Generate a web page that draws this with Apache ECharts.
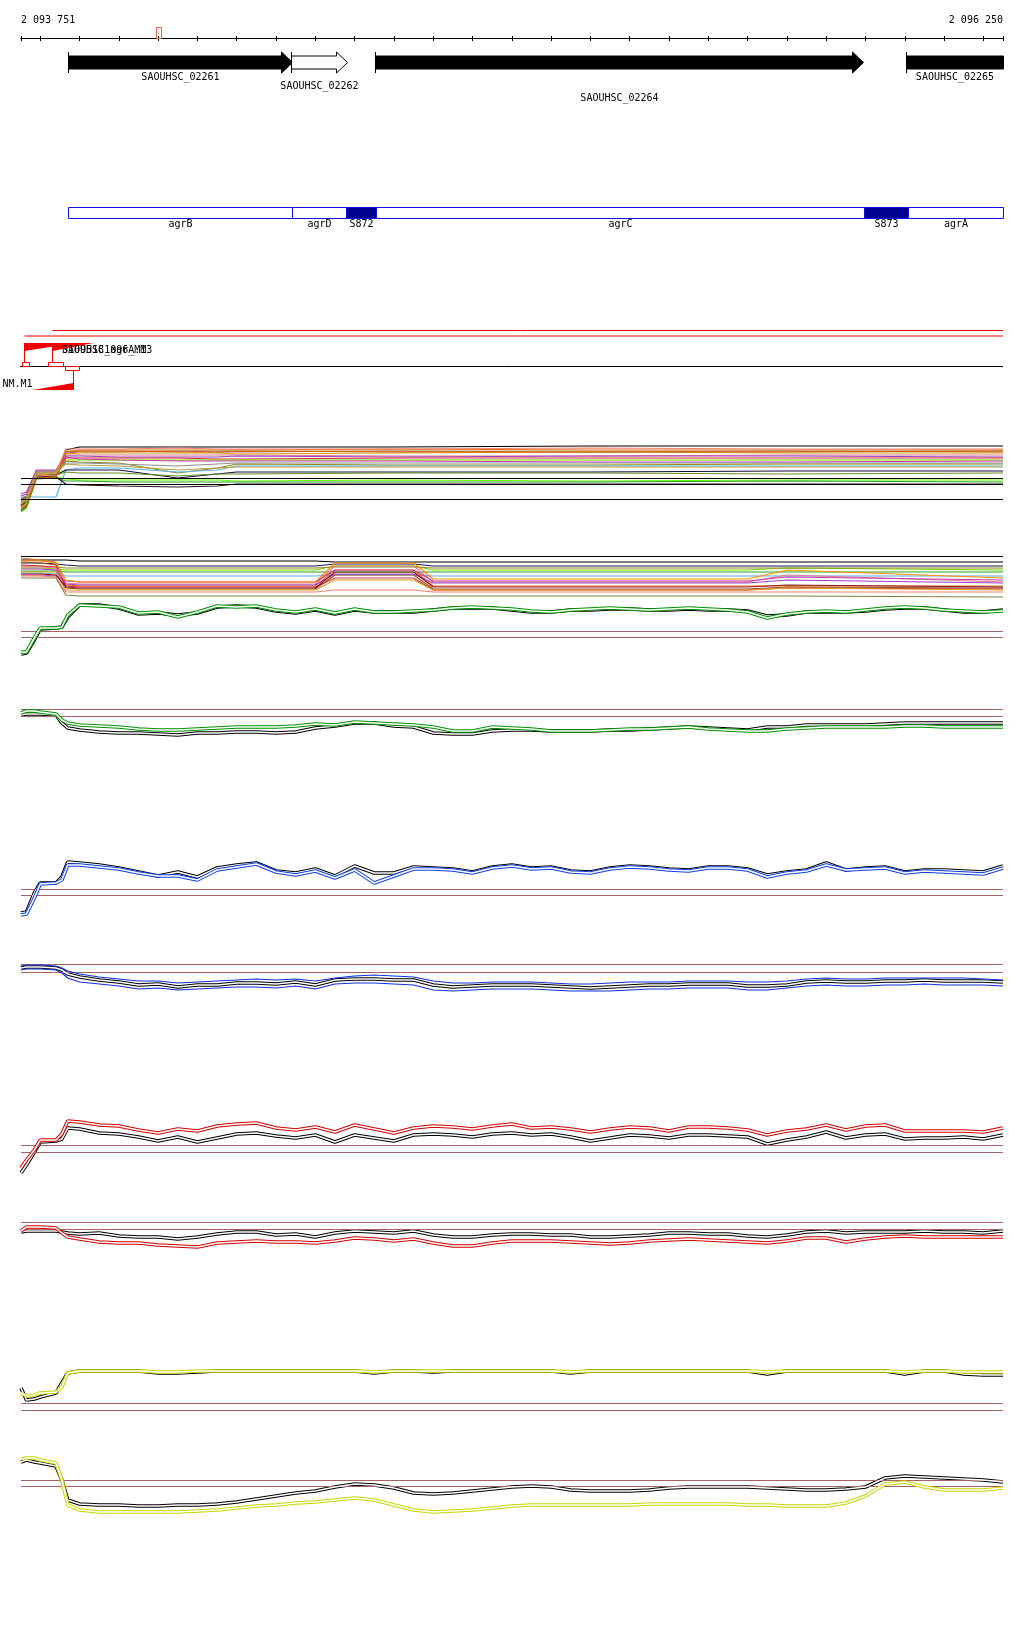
<!DOCTYPE html>
<html>
<head>
<meta charset="utf-8">
<script src="https://cdn.jsdelivr.net/npm/echarts@6/dist/echarts.min.js"></script>
<style>
  html, body { margin: 0; padding: 0; background: #fff; }
  #chart { width: 1024px; height: 1640px; }
</style>
</head>
<body>
<div id="chart"></div>
<script>
// region shown
const startPos = 2093751
const endPos = 2096250
const rulerTicks = [2093751, 2093800, 2093900, 2094000, 2094100, 2094200, 2094300, 2094400, 2094500, 2094600,
  2094700, 2094800, 2094900, 2095000, 2095100, 2095200, 2095300, 2095400, 2095500, 2095600,
  2095700, 2095800, 2095900, 2096000, 2096100, 2096200, 2096250]
const rulerLabels = [2093751, 2096250]
const markerPos = [2094102]

// genes
const geneNames = ['SAOUHSC_02261', 'SAOUHSC_02262', 'SAOUHSC_02264', 'SAOUHSC_02265']
const geneStart = [2093871, 2094438, 2094652, 2096003]
const geneEnd = [2094441, 2094581, 2095894, 2096250]
const geneFilled = [1, 0, 1, 1]
const geneHead = [1, 1, 1, 0]
const geneLabelRow = [0, 1, 2, 0]

// annotated features
const featureNames = ['agrB', 'agrD', 'S872', 'agrC', 'S873', 'agrA']
const featureStart = [2093871, 2094441, 2094578, 2094654, 2095896, 2096008]
const featureEnd = [2094441, 2094578, 2094654, 2095896, 2096008, 2096250]
const featureSolid = [0, 0, 1, 0, 1, 0]

// probes
const probeNames = ['01095181096_M1', 'SAOUHSC_agrA.M3', 'SAOUHSC_02261.NM.M1']
const probeStart = [2093759, 2093830, 2093779]
const probeEnd = [2093888, 2093934, 2093883]
const probeStrand = [1, 1, -1]
const probeBoxStart = [2093754, 2093820, 2093863]
const probeBoxEnd = [2093771, 2093858, 2093899]

// positions of the profile tracks
const pos = [2093751, 2093765, 2093785, 2093800, 2093840, 2093855, 2093870, 2093900, 2093950, 2094000,
  2094050, 2094100, 2094150, 2094200, 2094250, 2094300, 2094350, 2094400, 2094450, 2094500,
  2094550, 2094600, 2094650, 2094700, 2094750, 2094800, 2094850, 2094900, 2094950, 2095000,
  2095050, 2095100, 2095150, 2095200, 2095250, 2095300, 2095350, 2095400, 2095450, 2095500,
  2095550, 2095600, 2095650, 2095700, 2095750, 2095800, 2095850, 2095900, 2095950, 2096000,
  2096050, 2096100, 2096150, 2096200, 2096250]

// track 1: many samples
const t1Pos = [2093751, 2093765, 2093790, 2093840, 2093865, 2093900, 2094000, 2094150, 2094250, 2094300, 2094700, 2095200, 2095700, 2096250]
const t1Colors = ['#000000', '#e8731a', '#b5533c', '#d4a020', '#e07890', '#a040c0', '#d03030', '#80d000', '#c040a0',
  '#8a8a20', '#60b0e8', '#101040', '#6b8e23', '#66ff00', '#20a020', '#301020', '#909090', '#c8a060', '#f08070', '#d06010', '#b0a040']
const t1Values = [
  [15, 20, 44, 46, 70, 73, 73, 73, 73, 73, 73, 74, 74, 74],
  [20, 23, 48, 49, 68, 70, 70, 70, 70, 70, 71, 70, 70, 70],
  [12, 15, 46, 47, 67, 68, 68, 69, 68, 68, 69, 68, 69, 68],
  [17, 20, 45, 46, 66, 67, 67, 67, 67, 66, 67, 68, 67, 67],
  [22, 24, 47, 48, 65, 65, 65, 65, 65, 65, 64, 64, 65, 65],
  [24, 26, 49, 49, 64, 64, 63, 63, 63, 64, 63, 64, 64, 63],
  [10, 14, 43, 44, 62, 62, 62, 62, 61, 61, 62, 62, 62, 62],
  [8, 12, 42, 43, 60, 60, 60, 60, 60, 60, 60, 60, 60, 60],
  [26, 28, 50, 50, 63, 61, 60, 59, 59, 59, 59, 58, 58, 59],
  [18, 21, 46, 47, 59, 58, 57, 47, 52, 56, 55, 55, 56, 56],
  [23, 23, 23, 23, 50, 52, 52, 48, 50, 54, 54, 54, 54, 54],
  [14, 18, 44, 45, 50, 50, 50, 42, 46, 48, 48, 48, 49, 49],
  [15, 19, 44, 45, 48, 47, 47, 44, 46, 46, 47, 47, 46, 47],
  [12, 17, 42, 43, 41, 40, 40, 40, 40, 39, 40, 39, 40, 40],
  [9, 13, 41, 42, 39, 39, 38, 38, 38, 38, 38, 38, 39, 38],
  [20, 23, 43, 43, 36, 35, 34, 33, 34, 36, 36, 36, 36, 36],
  [21, 24, 48, 49, 57, 57, 56, 54, 56, 57, 57, 57, 57, 57],
  [17, 20, 46, 47, 69, 69, 69, 69, 70, 69, 69, 69, 69, 69],
  [13, 16, 44, 45, 71, 71, 71, 72, 71, 71, 71, 72, 71, 71],
  [11, 15, 42, 43, 68, 69, 69, 68, 68, 69, 68, 68, 68, 69],
  [19, 22, 47, 48, 56, 55, 54, 50, 52, 53, 53, 53, 53, 53]
]
const t1Lines = [42, 36, 21]

// track 2: many samples + green pair
const t2Pos = [2093751, 2093800, 2093840, 2093865, 2093900, 2094500, 2094550, 2094750, 2094800, 2095600, 2095700, 2096250]
const t2Colors = ['#000000', '#1a1a50', '#7cd000', '#22aa22', '#5aaae0', '#8b8b2b', '#e87020', '#a0522d', '#d03030',
  '#e07890', '#a040c0', '#d4a020', '#c040a0', '#8b1a1a', '#ff8c00', '#808040', '#f08070']
const t2Values = [
  [100, 100, 100, 100, 99, 99, 98, 98, 98, 98, 98, 98],
  [97, 97, 96, 95, 94, 94, 96, 96, 94, 94, 94, 94],
  [92, 92, 91, 90, 90, 90, 94, 94, 90, 90, 92, 90],
  [89, 89, 89, 88, 88, 88, 88, 88, 88, 88, 88, 88],
  [87, 87, 86, 84, 84, 84, 85, 85, 84, 84, 84, 84],
  [94, 94, 93, 92, 92, 92, 93, 93, 92, 92, 92, 92],
  [102, 100, 98, 75, 74, 74, 90, 90, 74, 74, 74, 74],
  [98, 97, 95, 72, 71, 71, 85, 85, 71, 71, 73, 72],
  [95, 94, 93, 74, 73, 73, 82, 82, 70, 70, 72, 71],
  [93, 93, 92, 77, 76, 76, 94, 94, 78, 78, 85, 78],
  [91, 91, 90, 76, 75, 75, 86, 86, 77, 77, 80, 77],
  [88, 88, 88, 70, 70, 70, 80, 80, 70, 70, 72, 70],
  [85, 85, 84, 79, 78, 78, 90, 90, 79, 79, 83, 80],
  [86, 86, 85, 73, 72, 72, 88, 88, 73, 73, 75, 73],
  [99, 99, 97, 80, 78, 78, 97, 97, 81, 81, 90, 82],
  [82, 82, 82, 65, 64, 64, 64, 64, 64, 64, 64, 63],
  [84, 84, 83, 68, 68, 68, 70, 70, 68, 68, 68, 68]
]
const t2Top = [104]
const t2Green = [8, 8, 22, 32, 32, 33, 45, 55, 54, 53, 47, 48, 43, 48, 54, 53, 54, 50, 48, 51,
  47, 51, 48, 48, 49, 50, 52, 53, 52, 51, 49, 48, 50, 51, 52, 51, 50, 51, 52, 51,
  50, 48, 42, 46, 48, 49, 48, 50, 52, 53, 52, 50, 49, 48, 49]
const t2Black = [6, 7, 20, 31, 32, 33, 43, 55, 55, 52, 46, 47, 45, 47, 53, 54, 53, 49, 47, 50,
  46, 50, 48, 48, 48, 50, 52, 52, 52, 50, 48, 48, 50, 50, 51, 51, 50, 50, 51, 50,
  50, 49, 44, 45, 48, 48, 48, 49, 51, 52, 52, 50, 48, 48, 50]

const t3Black = [25, 26, 26, 26, 25, 17, 12, 10, 8, 7, 7, 6, 5, 7, 7, 8, 8, 7, 8, 12,
  14, 17, 17, 14, 13, 7, 6, 6, 9, 10, 10, 9, 9, 9, 10, 10, 11, 12, 13, 12,
  11, 10, 13, 13, 15, 15, 15, 15, 16, 17, 17, 17, 17, 17, 17]
const t3Green = [27, 29, 29, 28, 26, 20, 17, 15, 14, 13, 11, 10, 10, 11, 12, 13, 13, 13, 14, 16,
  15, 18, 17, 16, 15, 13, 9, 9, 13, 12, 11, 9, 9, 9, 10, 11, 11, 12, 13, 11,
  10, 9, 9, 11, 12, 13, 13, 13, 13, 14, 14, 13, 13, 13, 13]

const t4Black = [7, 8, 27, 37, 37, 43, 58, 57, 55, 52, 48, 44, 48, 43, 52, 55, 57, 49, 47, 51,
  44, 54, 47, 47, 53, 52, 51, 48, 53, 55, 52, 53, 49, 48, 52, 54, 53, 51, 50, 53,
  53, 51, 45, 48, 50, 57, 50, 52, 53, 48, 50, 50, 49, 48, 54]
const t4Blue = [5, 6, 22, 36, 37, 40, 55, 55, 53, 51, 47, 44, 44, 40, 50, 53, 56, 48, 45, 49,
  42, 50, 37, 44, 51, 51, 50, 47, 52, 54, 51, 52, 48, 47, 51, 53, 52, 50, 49, 52,
  52, 50, 43, 47, 49, 55, 50, 51, 52, 47, 49, 48, 47, 46, 52]

const t5Black = [27, 28, 28, 28, 27, 25, 21, 18, 15, 13, 10, 11, 8, 10, 10, 12, 12, 11, 13, 10,
  15, 16, 16, 15, 15, 10, 8, 9, 10, 10, 10, 9, 8, 7, 8, 9, 10, 10, 11, 11,
  11, 9, 9, 10, 13, 14, 13, 13, 14, 14, 15, 14, 14, 14, 13]
const t5BlueHi = [29, 30, 30, 30, 29, 27, 24, 21, 18, 16, 14, 14, 12, 13, 14, 15, 16, 15, 16, 14,
  17, 19, 20, 19, 18, 14, 12, 12, 13, 13, 13, 12, 11, 11, 12, 13, 13, 13, 14, 14,
  14, 13, 13, 14, 16, 17, 16, 16, 17, 17, 17, 17, 17, 16, 15]
const t5BlueLo = [25, 26, 26, 26, 25, 22, 17, 13, 11, 9, 6, 7, 5, 6, 7, 8, 8, 7, 9, 6,
  11, 12, 12, 11, 10, 5, 4, 5, 6, 6, 6, 5, 4, 4, 4, 5, 6, 6, 7, 7,
  7, 5, 5, 7, 9, 10, 9, 9, 10, 10, 11, 10, 10, 10, 9]

const t6Red = [12, 20, 30, 40, 40, 46, 59, 58, 55, 54, 50, 47, 51, 49, 54, 56, 57, 52, 50, 53,
  48, 55, 51, 47, 52, 54, 53, 51, 54, 56, 52, 53, 51, 48, 51, 53, 52, 49, 53, 53,
  52, 50, 45, 49, 51, 55, 50, 54, 55, 49, 49, 49, 49, 48, 52]
const t6Black = [7, 15, 28, 38, 39, 41, 52, 51, 47, 46, 43, 39, 43, 38, 42, 46, 47, 44, 42, 45,
  38, 45, 42, 39, 45, 46, 45, 43, 46, 47, 45, 46, 43, 39, 42, 45, 44, 42, 45, 45,
  44, 43, 36, 40, 43, 48, 42, 45, 46, 41, 42, 42, 43, 41, 45]

const t7Black = [23, 24, 24, 24, 24, 23, 22, 21, 22, 19, 18, 18, 16, 18, 21, 23, 23, 20, 21, 18,
  22, 24, 23, 22, 24, 20, 18, 18, 20, 21, 21, 20, 20, 18, 18, 19, 20, 22, 22, 21,
  21, 19, 18, 20, 23, 24, 22, 23, 23, 23, 24, 23, 23, 22, 24]
const t7Red = [24, 28, 28, 28, 27, 22, 18, 16, 13, 12, 12, 10, 9, 8, 12, 13, 14, 13, 13, 12,
  14, 17, 16, 14, 16, 12, 9, 9, 12, 14, 14, 14, 13, 12, 11, 12, 14, 15, 16, 15,
  14, 13, 12, 14, 17, 17, 13, 16, 18, 19, 18, 18, 18, 18, 18]

const t8Black = [27, 15, 16, 18, 22, 32, 42, 44, 44, 44, 44, 42, 42, 43, 44, 44, 44, 44, 44, 44,
  44, 44, 42, 44, 44, 43, 44, 44, 44, 44, 44, 44, 42, 44, 44, 44, 44, 44, 44, 44,
  44, 44, 41, 44, 44, 44, 44, 44, 44, 41, 44, 44, 41, 40, 40]
const t8Yellow = [22, 19, 20, 22, 23, 28, 42, 44, 44, 44, 44, 43, 43, 44, 44, 44, 44, 44, 44, 44,
  44, 44, 43, 44, 44, 44, 44, 44, 44, 44, 44, 44, 43, 44, 44, 44, 44, 44, 44, 44,
  44, 44, 43, 44, 44, 44, 44, 44, 44, 43, 44, 44, 43, 43, 43]

const t9Black = [58, 60, 58, 57, 54, 40, 20, 16, 15, 15, 14, 14, 15, 15, 16, 18, 21, 24, 27, 29,
  33, 36, 35, 32, 27, 26, 27, 29, 31, 33, 34, 33, 30, 29, 29, 29, 30, 32, 33, 33,
  33, 33, 32, 31, 30, 30, 31, 33, 42, 44, 43, 42, 41, 40, 38]
const t9Yellow = [61, 62, 62, 60, 57, 40, 15, 10, 8, 8, 8, 8, 8, 9, 10, 12, 14, 15, 17, 18,
  20, 22, 20, 15, 10, 8, 9, 10, 12, 14, 15, 15, 15, 15, 15, 15, 16, 16, 16, 16,
  16, 15, 15, 14, 14, 14, 17, 24, 36, 38, 33, 30, 30, 30, 32]

// threshold lines of each profile track
const t2Limits = [29, 23]
const t3Limits = [31, 23.5]
const t4Limits = [31, 25]
const t5Limits = [30.5, 23]
const t6Limits = [35, 28]
const t7Limits = [33, 26]
const t8Limits = [12, 5]
const t9Limits = [40, 34]

const FONT = '10px "DejaVu Sans Mono", monospace'
const LIMIT_COLOR = '#a06464'

const chart = echarts.init(document.getElementById('chart'), null, { renderer: 'canvas' })

// grid boxes: ruler, genes, features, probes, 9 profile tracks
const gridBoxes = [
  [37, 1], [61, 1], [207, 11], [325, 70],
  [440, 80], [550, 110], [700, 40], [850, 70], [955, 40], [1110, 70], [1215, 40], [1360, 55], [1450, 70]
]
const grids = gridBoxes.map(b => ({ left: 21, right: 21, top: b[0], height: b[1] }))

const xAxes = gridBoxes.map((b, i) => ({
  type: 'value', gridIndex: i, min: startPos, max: endPos, show: false
}))
// ruler: one axis drawn up, one down so the ticks cross the line
xAxes[0] = {
  type: 'value', gridIndex: 0, min: startPos, max: endPos, position: 'top',
  axisLine: { show: true, lineStyle: { color: '#000', width: 1 } },
  axisTick: { show: true, length: 2, customValues: rulerTicks, lineStyle: { color: '#000' } },
  splitLine: { show: false },
  axisLabel: {
    show: true, customValues: rulerLabels, margin: 12, color: '#000',
    fontFamily: '"DejaVu Sans Mono", monospace', fontSize: 10,
    alignMinLabel: 'left', alignMaxLabel: 'right',
    formatter: v => String(v).replace(/\B(?=(\d{3})+(?!\d))/g, ' ')
  }
}
xAxes.push({
  type: 'value', gridIndex: 0, min: startPos, max: endPos, position: 'bottom',
  axisLine: { show: true, lineStyle: { color: '#000', width: 1 } },
  axisTick: { show: true, length: 3, customValues: rulerTicks, lineStyle: { color: '#000' } },
  axisLabel: { show: false }, splitLine: { show: false }
})

const yAxes = gridBoxes.map((b, i) => ({
  type: 'value', gridIndex: i, show: false,
  min: 0, max: i < 3 ? 1 : b[1], inverse: i === 3
}))

const series = []

// ruler marker
series.push({
  type: 'custom', xAxisIndex: 0, yAxisIndex: 0, silent: true, animation: false,
  data: markerPos.map(p => [p]),
  renderItem: (params, api) => {
    const c = api.coord([api.value(0), 0])
    return { type: 'rect', shape: { x: c[0] - 2.5, y: c[1] - 10.5, width: 5, height: 11 },
      style: { fill: 'none', stroke: '#f06040', lineWidth: 1 } }
  }
})

// genes
const LABEL_DROP = [14.5, 23.5, 35.5]
series.push({
  type: 'custom', xAxisIndex: 1, yAxisIndex: 1, silent: true, animation: false, clip: false,
  data: geneStart.map((s, i) => [s, geneEnd[i], geneFilled[i], geneHead[i], geneLabelRow[i]]),
  renderItem: (params, api) => {
    const s = api.coord([api.value(0), 0.5])
    const e = api.coord([api.value(1), 0.5])
    const y = Math.round(s[1]) + 0.5
    const x0 = Math.round(s[0]) + 0.5
    const x1 = Math.round(e[0]) + 0.5
    const head = api.value(3)
    const pts = head
      ? [[x0, y - 6.5], [x1 - 11, y - 6.5], [x1 - 11, y - 10.5], [x1, y], [x1 - 11, y + 10.5], [x1 - 11, y + 6.5], [x0, y + 6.5]]
      : [[x0, y - 6.5], [x1, y - 6.5], [x1, y + 6.5], [x0, y + 6.5]]
    return {
      type: 'group', children: [
        { type: 'polygon', shape: { points: pts }, style: { fill: api.value(2) ? '#000' : '#fff', stroke: '#000', lineWidth: 1 } },
        { type: 'line', shape: { x1: x0, y1: y - 10.5, x2: x0, y2: y + 10.5 }, style: { stroke: '#000', lineWidth: 1 } },
        { type: 'text', style: { text: geneNames[params.dataIndex], x: (x0 + x1) / 2, y: y + LABEL_DROP[api.value(4)],
          align: 'center', verticalAlign: 'middle', font: FONT, fill: '#000' } }
      ]
    }
  }
})

// features
series.push({
  type: 'custom', xAxisIndex: 2, yAxisIndex: 2, silent: true, animation: false, clip: false,
  data: featureStart.map((s, i) => [s, featureEnd[i], featureSolid[i]]),
  renderItem: (params, api) => {
    const a = api.coord([api.value(0), 1])
    const b = api.coord([api.value(1), 0])
    const x0 = Math.round(a[0]) + 0.5, x1 = Math.round(b[0]) + 0.5
    return {
      type: 'group', children: [
        { type: 'rect', shape: { x: x0, y: a[1] + 0.5, width: x1 - x0, height: b[1] - a[1] },
          style: { fill: api.value(2) ? '#000090' : '#fff', stroke: '#1010e0', lineWidth: 1 } },
        { type: 'text', style: { text: featureNames[params.dataIndex], x: (x0 + x1) / 2, y: b[1] + 6.5,
          align: 'center', verticalAlign: 'middle', font: FONT, fill: '#000' } }
      ]
    }
  }
})

// probes: black baseline, red long lines, wedges, boxes, labels
const LANE_LINE = [11, 5.5]
series.push({
  type: 'custom', xAxisIndex: 3, yAxisIndex: 3, silent: true, animation: false, clip: false,
  data: [[startPos, endPos]],
  renderItem: (params, api) => {
    const a = api.coord([api.value(0), 41])
    const b = api.coord([api.value(1), 41])
    return { type: 'line', shape: { x1: a[0] - 1, y1: a[1] + 0.5, x2: b[0], y2: b[1] + 0.5 }, style: { stroke: '#000', lineWidth: 1 } }
  }
})
series.push({
  type: 'custom', xAxisIndex: 3, yAxisIndex: 3, silent: true, animation: false, clip: false,
  data: probeStart.map((s, i) => [s, probeEnd[i], probeStrand[i], probeBoxStart[i], probeBoxEnd[i]]),
  renderItem: (params, api) => {
    const i = params.dataIndex
    const top = api.coord([startPos, 0])[1]
    const xs = Math.round(api.coord([api.value(0), 0])[0]) + 0.5
    const xe = Math.round(api.coord([api.value(1), 0])[0]) + 0.5
    const bs = Math.round(api.coord([api.value(3), 0])[0]) + 0.5
    const be = Math.round(api.coord([api.value(4), 0])[0]) + 0.5
    const xEnd = api.coord([endPos, 0])[0]
    const red = '#f00000'
    const kids = []
    if (api.value(2) > 0) {
      const wy = top + 18
      kids.push({ type: 'line', shape: { x1: xs, y1: top + LANE_LINE[i], x2: xEnd, y2: top + LANE_LINE[i] }, style: { stroke: red, lineWidth: 1 } })
      kids.push({ type: 'polygon', shape: { points: [[xs, wy], [xe, wy], [xs, wy + 8]] }, style: { fill: red } })
      kids.push({ type: 'line', shape: { x1: xs, y1: wy, x2: xs, y2: top + 37 }, style: { stroke: red, lineWidth: 1 } })
      kids.push({ type: 'rect', shape: { x: bs, y: top + 37.5, width: be - bs, height: 4 }, style: { fill: 'none', stroke: red, lineWidth: 1 } })
      kids.push({ type: 'text', style: { text: probeNames[i], x: 62, y: top + 25, align: 'left', verticalAlign: 'middle', font: FONT, fill: '#000' } })
    } else {
      const wy = top + 65
      kids.push({ type: 'polygon', shape: { points: [[xs, wy], [xe, wy], [xe, wy - 7]] }, style: { fill: red } })
      kids.push({ type: 'line', shape: { x1: xe, y1: top + 45, x2: xe, y2: wy }, style: { stroke: red, lineWidth: 1 } })
      kids.push({ type: 'rect', shape: { x: bs, y: top + 41.5, width: be - bs, height: 4 }, style: { fill: 'none', stroke: red, lineWidth: 1 } })
      kids.push({ type: 'text', style: { text: probeNames[i], x: xs, y: top + 59, align: 'right', verticalAlign: 'middle', font: FONT, fill: '#000' } })
    }
    return { type: 'group', children: kids }
  }
})

function curve(grid, xs, ys, color, width, z) {
  return {
    type: 'line', xAxisIndex: grid, yAxisIndex: grid, data: xs.map((x, k) => [x, ys[k]]),
    symbol: 'none', silent: true, animation: false, z: z,
    lineStyle: { color: color, width: width }
  }
}
// a pair of thin parallel strokes
function pair(grid, xs, ys, color, z) {
  return [curve(grid, xs, ys, color, 3.6, z), curve(grid, xs, ys, '#fff', 1.6, z + 1)]
}
function limits(grid, values, color) {
  return {
    type: 'line', xAxisIndex: grid, yAxisIndex: grid, data: [], silent: true, animation: false, z: 1,
    markLine: {
      silent: true, animation: false, symbol: ['none', 'none'], label: { show: false },
      lineStyle: { color: color, width: 1, type: 'solid' },
      data: values.map(v => ({ yAxis: v }))
    }
  }
}

// track 1
t1Values.forEach((vals, k) => series.push(curve(4, t1Pos, vals, t1Colors[k], 1.2, 3)))
series.push(limits(4, t1Lines, '#000'))

// track 2
t2Values.forEach((vals, k) => series.push(curve(5, t2Pos, vals, t2Colors[k], 1.2, 3)))
series.push(limits(5, t2Top, '#000'))
series.push(limits(5, t2Limits, LIMIT_COLOR))
series.push(...pair(5, pos, t2Black, '#000', 4))
series.push(...pair(5, pos, t2Green, '#009000', 6))

// track 3
series.push(limits(6, t3Limits, LIMIT_COLOR))
series.push(...pair(6, pos, t3Black, '#000', 4))
series.push(...pair(6, pos, t3Green, '#009000', 6))

// track 4
series.push(limits(7, t4Limits, LIMIT_COLOR))
series.push(...pair(7, pos, t4Black, '#000', 4))
series.push(...pair(7, pos, t4Blue, '#1040e0', 6))

// track 5
series.push(limits(8, t5Limits, LIMIT_COLOR))
series.push(...pair(8, pos, t5Black, '#000', 4))
series.push(curve(8, pos, t5BlueHi, '#1030e0', 1.2, 6))
series.push(curve(8, pos, t5BlueLo, '#1030e0', 1.2, 6))

// track 6
series.push(limits(9, t6Limits, LIMIT_COLOR))
series.push(...pair(9, pos, t6Black, '#000', 4))
series.push(...pair(9, pos, t6Red, '#d00000', 6))

// track 7
series.push(limits(10, t7Limits, LIMIT_COLOR))
series.push(...pair(10, pos, t7Black, '#000', 4))
series.push(...pair(10, pos, t7Red, '#d00000', 6))

// track 8
series.push(limits(11, t8Limits, LIMIT_COLOR))
series.push(...pair(11, pos, t8Black, '#000', 4))
series.push(...pair(11, pos, t8Yellow, '#c8d400', 6))

// track 9
series.push(limits(12, t9Limits, LIMIT_COLOR))
series.push(...pair(12, pos, t9Black, '#000', 4))
series.push(...pair(12, pos, t9Yellow, '#c8d400', 6))

chart.setOption({
  backgroundColor: '#fff',
  animation: false,
  grid: grids,
  xAxis: xAxes,
  yAxis: yAxes,
  series: series
})
</script>
</body>
</html>
